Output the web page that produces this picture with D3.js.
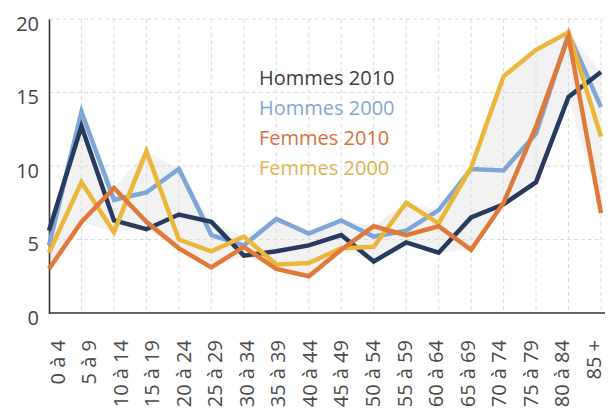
<!DOCTYPE html>
<html lang="fr">
<head>
  <meta charset="UTF-8">
  <title>Hommes / Femmes 2000-2010</title>
  <script src="https://cdn.jsdelivr.net/npm/d3@7"></script>
  <style>
    body { margin: 0; background: #fff; }
    text { font-family: "Open Sans", sans-serif; }
  </style>
</head>
<body>
<div id="grafica"></div>

<script>
// categories d'age
ages = ['0 à 4', '5 à 9', '10 à 14', '15 à 19', '20 à 24', '25 à 29', '30 à 34', '35 à 39',
        '40 à 44', '45 à 49', '50 à 54', '55 à 59', '60 à 64', '65 à 69', '70 à 74',
        '75 à 79', '80 à 84', '85 +']

hommes2010 = [5.6, 12.7, 6.3, 5.7, 6.7, 6.2, 3.9, 4.2, 4.6, 5.3, 3.5, 4.8, 4.1, 6.5, 7.4, 8.9, 14.7, 16.4]
hommes2000 = [4.6, 13.7, 7.7, 8.2, 9.8, 5.3, 4.6, 6.4, 5.4, 6.3, 5.2, 5.6, 7.0, 9.8, 9.7, 12.2, 19.0, 14.0]
femmes2010 = [3.0, 6.2, 8.5, 6.2, 4.4, 3.1, 4.5, 3.0, 2.5, 4.3, 5.9, 5.3, 5.9, 4.3, 7.5, 12.7, 18.8, 6.8]
femmes2000 = [4.1, 8.9, 5.5, 11.0, 5.0, 4.2, 5.2, 3.3, 3.4, 4.4, 4.5, 7.5, 6.1, 9.9, 16.1, 17.9, 19.1, 12.0]

yTicks = [0, 5, 10, 15, 20]

// ordre de dessin : du dessous vers le dessus
series = [
  { nom: 'Hommes 2000', valeurs: hommes2000, couleur: '#7ea7d8', texte: '#86a7d6' },
  { nom: 'Hommes 2010', valeurs: hommes2010, couleur: '#283a5e', texte: '#3d3d3d' },
  { nom: 'Femmes 2000', valeurs: femmes2000, couleur: '#ebb73a', texte: '#e2b44e' },
  { nom: 'Femmes 2010', valeurs: femmes2010, couleur: '#e07a3a', texte: '#d5733d' }
]
legende = ['Hommes 2010', 'Hommes 2000', 'Femmes 2010', 'Femmes 2000']

ancho_total = 611
alto_total = 418

svg = d3
        .select('#grafica')
        .append('svg')
        .attr('width', ancho_total)
        .attr('height', alto_total)

x = d3
      .scalePoint()
      .domain(ages)
      .range([49, 601])
// les etiquettes sont un peu plus serrees que les points
xl = d3
      .scalePoint()
      .domain(ages)
      .range([57, 593])
y = d3
      .scaleLinear()
      .domain([0, 20])
      .range([313, 19])

// zone grise entre le min et le max
zone = d3
         .area()
         .x((d, i) => x(ages[i]))
         .y0(d => y(d3.min(d)))
         .y1(d => y(d3.max(d)))
svg
  .append('path')
  .attr('fill', '#f2f2f2')
  .attr('d', zone(ages.map((a, i) => series.map(s => s.valeurs[i]))))

// grille pointillee
svg
  .append('g')
  .selectAll('line')
  .data(yTicks.slice(1))
  .join('line')
  .attr('x1', 49).attr('x2', 603)
  .attr('y1', d => y(d)).attr('y2', d => y(d))
  .attr('stroke', '#dcdcdc')
  .attr('stroke-dasharray', '4,3')
svg
  .append('g')
  .selectAll('line')
  .data(ages.slice(1))
  .join('line')
  .attr('x1', d => x(d)).attr('x2', d => x(d))
  .attr('y1', y(20)).attr('y2', y(0))
  .attr('stroke', '#dcdcdc')
  .attr('stroke-dasharray', '4,3')

// axes
yAxis = svg
          .append('g')
          .attr('transform', 'translate(49,0)')
          .call(d3.axisLeft(y).tickValues(yTicks).tickSize(0).tickPadding(10))
yAxis.select('.domain').attr('stroke', '#333').attr('stroke-width', 1.6)
yAxis.selectAll('text')
  .attr('font-size', 20)
  .attr('fill', '#444')
  .attr('dy', '0.55em')

xAxis = svg
          .append('g')
          .attr('transform', `translate(0, ${y(0)})`)
          .call(d3.axisBottom(xl).tickSize(0))
xAxis.select('.domain').remove()
svg
  .append('line')
  .attr('x1', 49).attr('x2', 605)
  .attr('y1', y(0)).attr('y2', y(0))
  .attr('stroke', '#333')
  .attr('stroke-width', 1.6)
xAxis.selectAll('text')
  .attr('font-size', 20)
  .attr('fill', '#4a4a4a')
  .attr('text-anchor', 'end')
  .attr('transform', 'rotate(-90)')
  .attr('x', -27)
  .attr('y', 0)
  .attr('dy', '0.36em')

// courbes
linea = d3
          .line()
          .x((d, i) => x(ages[i]))
          .y(d => y(d))
svg
  .append('g')
  .selectAll('path')
  .data(series)
  .join('path')
  .attr('fill', 'none')
  .attr('stroke', d => d.couleur)
  .attr('stroke-width', 4.5)
  .attr('stroke-linejoin', 'miter')
  .attr('d', d => linea(d.valeurs))

// legende
svg
  .append('g')
  .selectAll('text')
  .data(legende)
  .join('text')
  .attr('x', 259)
  .attr('y', (d, i) => 85 + i * 30)
  .attr('font-size', 20)
  .attr('fill', d => series.find(s => s.nom === d).texte)
  .text(d => d)
</script>
</body>
</html>
